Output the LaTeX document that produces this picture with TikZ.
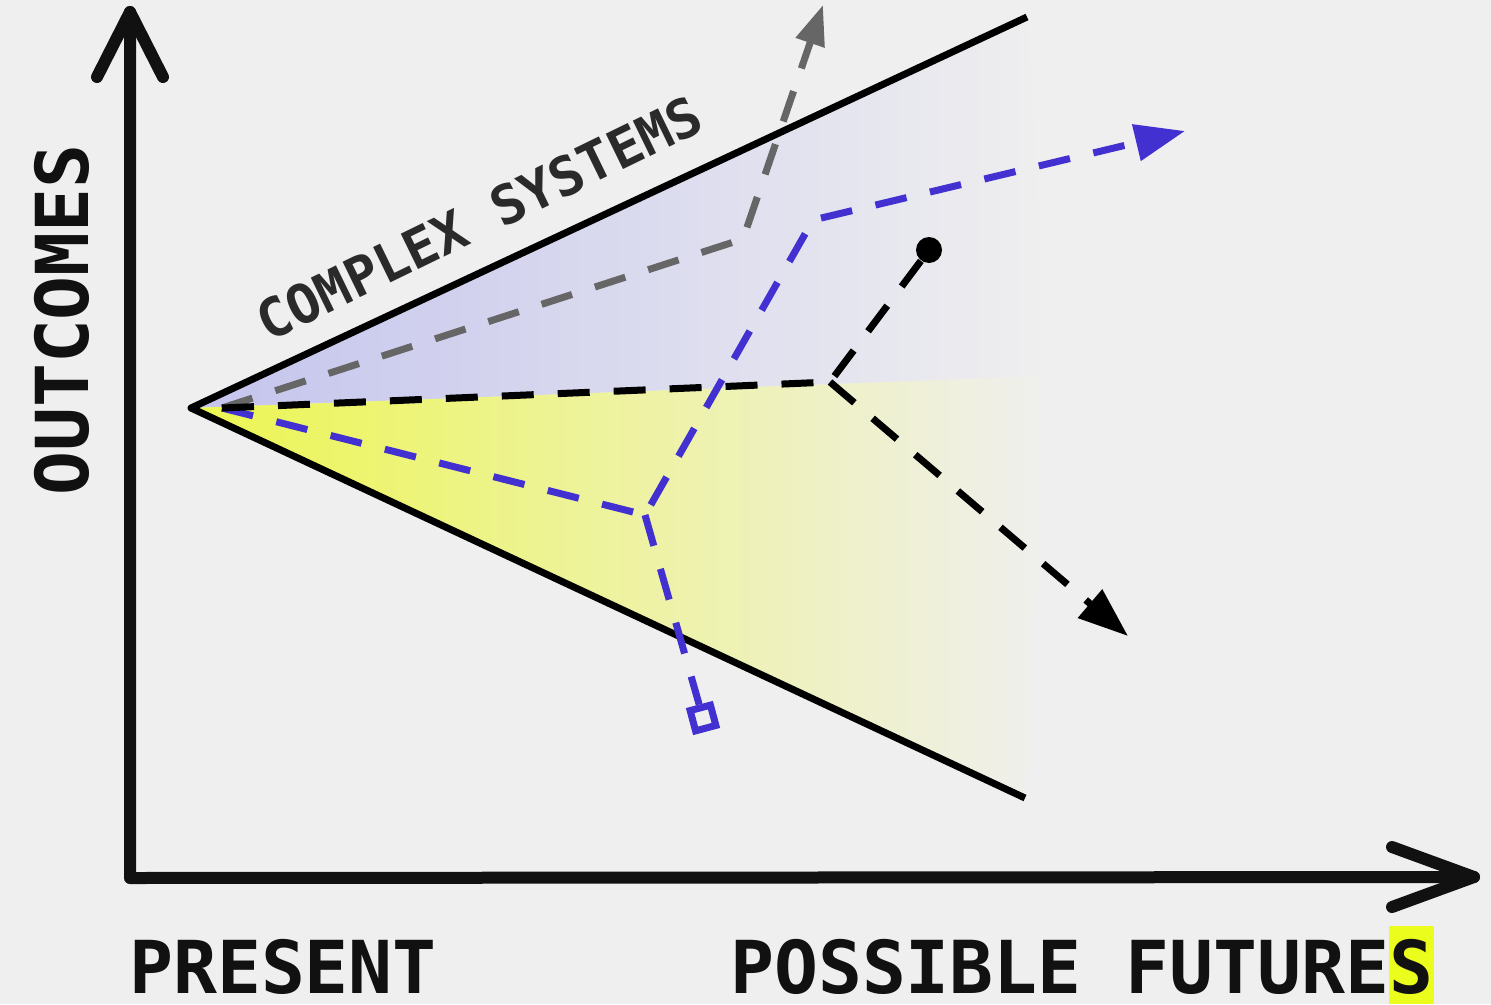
\documentclass[tikz,border=0pt]{standalone}
\usepackage{fontspec}
\newfontfamily\lblfont{DejaVu Sans Mono}
\usetikzlibrary{arrows.meta}
\definecolor{bg}{HTML}{EFEFEF}
\definecolor{purp}{HTML}{C4C4EE}
\definecolor{purpm}{HTML}{D6D6EE}
\definecolor{yel}{HTML}{ECF650}
\definecolor{yelm}{HTML}{EEF2A4}
\definecolor{blu}{HTML}{4330D0}
\definecolor{gry}{HTML}{666666}
\definecolor{hl}{HTML}{EBFD1C}
\definecolor{ink}{HTML}{111111}
\definecolor{ink2}{HTML}{2A2A2A}
\begin{document}
\begin{tikzpicture}[x=1pt,y=-1pt,
  axis/.style={line width=12pt, ink, line cap=round, line join=round},
  cone/.style={line width=7pt, black, line join=round},
  dsh/.style={line width=7pt, dash pattern=on 32pt off 24pt},
  kdash/.style={dsh, black},
  bdash/.style={dsh, blu},
  gdash/.style={dsh, gry},
  biglbl/.style={font=\lblfont\bfseries\fontsize{73}{80}\selectfont, text=ink, inner sep=0pt},
  smalllbl/.style={font=\lblfont\bfseries\fontsize{54}{60}\selectfont, text=ink2, inner sep=0pt},
  dotnode/.style={circle, fill=black, minimum size=26pt, inner sep=0pt},
  sqnode/.style={rectangle, draw=blu, line width=7pt, minimum size=21pt, inner sep=0pt},
  hlnode/.style={fill=hl, inner sep=0pt, minimum width=45pt, minimum height=78pt, anchor=north west}
]
\useasboundingbox (0,0) rectangle (1491,1004);
\fill[bg] (0,0) rectangle (1491,1004);

% key coordinates
\coordinate (apex) at (191,408);
\coordinate (up) at (1027,17);
\coordinate (lo) at (1025,798);
\coordinate (mid) at (1048,376);
\coordinate (s) at (222,408);
\coordinate (g1) at (743,239);
\coordinate (gtip) at (823,5);
\coordinate (b1) at (645,515);
\coordinate (b2) at (813,220);
\coordinate (btip) at (1185,131);
\coordinate (k1) at (830,382);
\coordinate (ktip) at (1128,636);
\coordinate (O) at (130,878);
\coordinate (ytop) at (130,12);
\coordinate (xend) at (1474,877);

% fills
\shade[left color=purp, middle color=purpm, right color=bg] (apex) -- (up) -- (mid) -- cycle;
\shade[left color=yel, middle color=yelm, right color=bg] (apex) -- (mid) -- (lo) -- cycle;

% cone
\draw[cone] (up) -- (apex) -- (lo);

% axes
\draw[axis] (ytop) -- (O) -- (xend);
\draw[axis] (ytop) ++(-33,65) -- (ytop) -- ++(33,65);
\draw[axis] (xend) ++(-82,-30) -- (xend) -- ++(-82,30);

% end markers
\node[dotnode] (dot) at (929,250) {};
\node[sqnode, rotate=15] (sq) at (703,718) {};

% gray path
\draw[gdash, -{Triangle[length=40pt,width=29pt]}] (s) -- (g1) -- (gtip);
% blue paths
\draw[bdash, -{Triangle[length=50pt,width=36pt]}] (s) -- (b1) -- (b2) -- (btip);
\draw[bdash] (b1) -- (sq);
% black paths
\draw[kdash] (s) -- (k1) -- (dot);
\draw[kdash, -{Triangle[length=50pt,width=36pt]}] (k1) -- (ktip);

% labels
\node[hlnode] (hlbox) at (1389,926) {};
\node[biglbl, anchor=base west] (present) at (129,993) {PRESENT};
\node[biglbl, anchor=base west] (futures) at (730,993) {POSSIBLE FUTURES};
\node[biglbl, anchor=base west, rotate=90] (outcomes) at (88,496) {OUTCOMES};
\node[smalllbl, rotate=26] (complex) at (479,218) {COMPLEX SYSTEMS};
\end{tikzpicture}
\end{document}
